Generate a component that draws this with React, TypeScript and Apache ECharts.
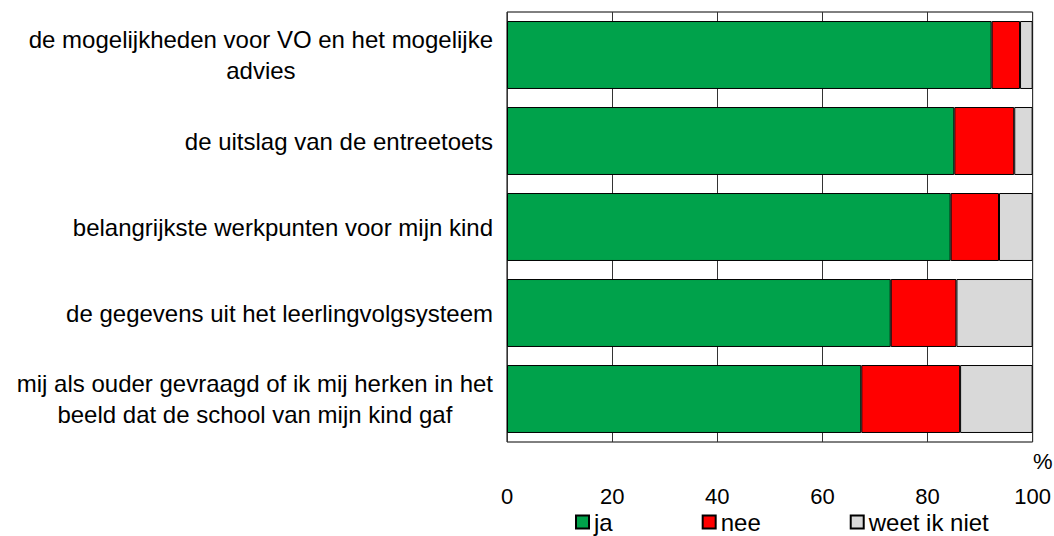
import React, { useEffect, useRef } from "react";
import * as echarts from "echarts";

const categories = [
  "de mogelijkheden voor VO en het mogelijke\nadvies",
  "de uitslag van de entreetoets",
  "belangrijkste werkpunten voor mijn kind",
  "de gegevens uit het leerlingvolgsysteem",
  "mij als ouder gevraagd of ik mij herken in het\nbeeld dat de school van mijn kind gaf",
];
const ja = [92.2, 85.1, 84.4, 73.0, 67.4];
const nee = [5.4, 11.4, 9.2, 12.5, 18.8];
const weetIkNiet = [2.4, 3.5, 6.4, 14.5, 13.8];
const xTicks = [0, 20, 40, 60, 80, 100];

const FONT = "'Liberation Sans', Arial, sans-serif";

export default function App() {
  const ref = useRef<HTMLDivElement>(null);
  useEffect(() => {
    if (!ref.current) return;
    const chart = echarts.init(ref.current, undefined, { renderer: "svg" });
    const barStyle = (color: string) => ({
      color,
      borderColor: "#000",
      borderWidth: 1,
    });
    chart.setOption({
      animation: false,
      textStyle: { fontFamily: FONT },
      grid: {
        left: 507,
        right: 21,
        top: 12,
        bottom: 94,
        show: true,
        borderColor: "#000",
        borderWidth: 1,
        backgroundColor: "transparent",
      },
      xAxis: {
        type: "value",
        min: xTicks[0],
        max: xTicks[xTicks.length - 1],
        interval: 20,
        axisLine: { show: false },
        axisTick: { show: false },
        splitLine: { show: true, lineStyle: { color: "#333", width: 1 } },
        axisLabel: { fontSize: 22, color: "#000", margin: 43, fontFamily: FONT },
      },
      yAxis: {
        type: "category",
        data: categories,
        inverse: true,
        axisLine: { show: false },
        axisTick: { show: false },
        axisLabel: {
          margin: 14,
          color: "#000",
          fontSize: 24,
          fontFamily: FONT,
          lineHeight: 31,
          formatter: (v: string) =>
            v
              .split("\n")
              .map((l) => `{c|${l}}`)
              .join("\n"),
          rich: {
            c: { align: "center", fontSize: 24, lineHeight: 31, color: "#000", fontFamily: FONT },
          },
        },
      },
      legend: {
        top: 510,
        left: 575,
        padding: 0,
        itemWidth: 13,
        itemHeight: 13,
        itemGap: 89,
        icon: "rect",
        textStyle: { fontSize: 24, color: "#000", fontFamily: FONT },
        data: ["ja", "nee", "weet ik niet"],
      },
      graphic: [
        {
          type: "text",
          left: 1033,
          top: 450,
          style: { text: "%", fontSize: 22, fill: "#000", fontFamily: FONT },
        },
      ],
      series: [
        { name: "ja", type: "bar", stack: "s", data: ja, itemStyle: barStyle("#00A24B"), barCategoryGap: "21%" },
        { name: "nee", type: "bar", stack: "s", data: nee, itemStyle: barStyle("#FF0000") },
        { name: "weet ik niet", type: "bar", stack: "s", data: weetIkNiet, itemStyle: barStyle("#D9D9D9") },
      ],
    });
    return () => chart.dispose();
  }, []);
  return <div ref={ref} style={{ width: 1054, height: 536, position: "absolute", left: 0, top: 0 }} />;
}
